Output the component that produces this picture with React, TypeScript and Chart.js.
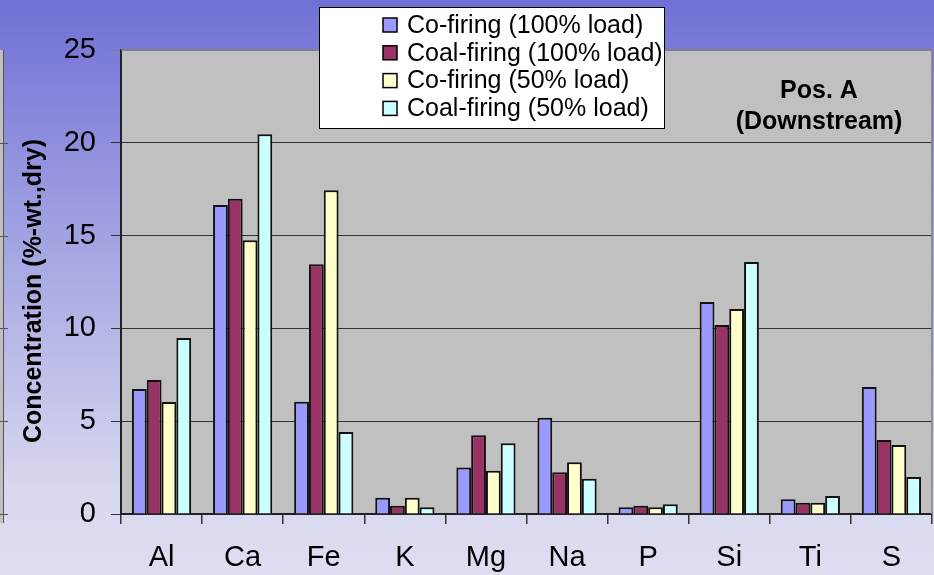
import React, { useEffect, useRef } from "react";
import { Chart, registerables } from "chart.js";

Chart.register(...registerables);

const categories = ["Al", "Ca", "Fe", "K", "Mg", "Na", "P", "Si", "Ti", "S"];
const seriesLabels = [
  "Co-firing (100% load)",
  "Coal-firing (100% load)",
  "Co-firing (50% load)",
  "Coal-firing (50% load)",
];
const coFiring100 = [6.73, 16.65, 6.05, 0.88, 2.51, 5.19, 0.36, 11.42, 0.79, 6.84];
const coalFiring100 = [7.22, 16.99, 13.45, 0.45, 4.24, 2.25, 0.45, 10.18, 0.61, 3.99];
const coFiring50 = [6.03, 14.75, 17.44, 0.88, 2.33, 2.79, 0.36, 11.05, 0.61, 3.72];
const coalFiring50 = [9.48, 20.46, 4.42, 0.36, 3.81, 1.9, 0.52, 13.58, 0.97, 1.99];
const seriesColors = ["#9999ff", "#993366", "#ffffcc", "#ccffff"];
const yTicks = [0, 5, 10, 15, 20, 25];
const yTitle = "Concentration (%-wt.,dry)";
const noteLines = ["Pos. A", "(Downstream)"];

const FONT = "'Liberation Sans', Arial, sans-serif";

const decorPlugin = {
  id: "decor",
  beforeDraw(chart: any) {
    const { ctx, width, height, chartArea } = chart;
    ctx.save();
    const g = ctx.createLinearGradient(0, 0, 0, height);
    g.addColorStop(0, "#7070d6");
    g.addColorStop(0.85, "#d8d8ef");
    g.addColorStop(1, "#dedef2");
    ctx.fillStyle = g;
    ctx.fillRect(0, 0, width, height);
    ctx.fillStyle = "#c0c0c0";
    ctx.fillRect(chartArea.left, chartArea.top, chartArea.right - chartArea.left, chartArea.bottom - chartArea.top);
    // neighbouring chart edge at far left
    ctx.fillStyle = "#c0c0c0";
    ctx.fillRect(0, chartArea.top, 3, chartArea.bottom - chartArea.top + 9);
    ctx.strokeStyle = "#555";
    ctx.lineWidth = 1;
    ctx.beginPath();
    ctx.moveTo(3.5, chartArea.top);
    ctx.lineTo(3.5, chartArea.bottom + 9);
    const ys = chart.scales.y;
    [0, 5, 10, 15, 20].forEach((v) => {
      const yy = Math.round(ys.getPixelForValue(v)) + 0.5;
      ctx.moveTo(0, yy);
      ctx.lineTo(8, yy);
    });
    ctx.stroke();
    ctx.restore();
  },
  afterDraw(chart: any) {
    const { ctx, chartArea } = chart;
    ctx.save();
    // plot border top / right
    ctx.strokeStyle = "#808080";
    ctx.lineWidth = 1.5;
    ctx.beginPath();
    ctx.moveTo(chartArea.left, chartArea.top);
    ctx.lineTo(chartArea.right, chartArea.top);
    ctx.lineTo(chartArea.right, chartArea.bottom);
    ctx.stroke();

    // y title
    ctx.save();
    ctx.translate(34, 291);
    ctx.rotate(-Math.PI / 2);
    ctx.font = `bold 25px ${FONT}`;
    ctx.fillStyle = "#000";
    ctx.textAlign = "center";
    ctx.textBaseline = "middle";
    ctx.fillText(yTitle, 0, 0);
    ctx.restore();

    // legend box
    const lx = 319, ly = 7, lw = 345, lh = 121;
    ctx.fillStyle = "#fff";
    ctx.fillRect(lx, ly, lw, lh);
    ctx.strokeStyle = "#000";
    ctx.lineWidth = 1;
    ctx.strokeRect(lx + 0.5, ly + 0.5, lw, lh);
    ctx.font = `25px ${FONT}`;
    ctx.textAlign = "left";
    ctx.textBaseline = "middle";
    chart.data.datasets.forEach((ds: any, i: number) => {
      const cy = 25 + i * 27.8;
      ctx.fillStyle = ds.backgroundColor;
      ctx.fillRect(383, cy - 7, 14, 14);
      ctx.strokeStyle = "#000";
      ctx.lineWidth = 1.5;
      ctx.strokeRect(383, cy - 7, 14, 14);
      ctx.fillStyle = "#000";
      ctx.fillText(ds.label, 407, cy + 1);
    });

    // annotation
    ctx.font = `bold 25px ${FONT}`;
    ctx.textAlign = "center";
    ctx.fillStyle = "#000";
    ctx.fillText(noteLines[0], 819, 91);
    ctx.fillText(noteLines[1], 819, 122);
    ctx.restore();
  },
};

export default function App() {
  const ref = useRef<HTMLCanvasElement>(null);
  useEffect(() => {
    if (!ref.current) return;
    const data = [coFiring100, coalFiring100, coFiring50, coalFiring50];
    const chart = new Chart(ref.current, {
      type: "bar",
      data: {
        labels: categories,
        datasets: data.map((d, i) => ({
          label: seriesLabels[i],
          data: d,
          backgroundColor: seriesColors[i],
          borderColor: "#111",
          borderWidth: 2,
          categoryPercentage: 0.73,
          barPercentage: 1.0,
        })),
      },
      options: {
        responsive: false,
        animation: false,
        layout: { padding: { top: 50, right: 2, left: 0, bottom: 0 } },
        plugins: { legend: { display: false }, tooltip: { enabled: false } },
        scales: {
          x: {
            afterFit: (s: any) => {
              s.height = 61;
            },
            grid: {
              offset: true,
              drawOnChartArea: false,
              drawTicks: true,
              tickLength: 10,
              color: "#333",
              lineWidth: 1.5,
            },
            border: { display: true, color: "#222", width: 2 },
            ticks: {
              font: { size: 29, family: FONT },
              color: "#000",
              padding: 17,
            },
          },
          y: {
            min: 0,
            max: 25,
            afterFit: (s: any) => {
              s.width = 121;
            },
            afterBuildTicks: (s: any) => {
              s.ticks = yTicks.map((v) => ({ value: v }));
            },
            grid: {
              drawTicks: true,
              tickLength: 10,
              color: (c: any) => (c.tick && c.tick.value === 25 ? "#808080" : "#333"),
              lineWidth: 1,
            },
            border: { display: true, color: "#222", width: 2 },
            ticks: {
              font: { size: 29, family: FONT },
              color: "#000",
              padding: 15,
            },
          },
        },
      },
      plugins: [decorPlugin],
    });
    return () => chart.destroy();
  }, []);
  return (
    <div style={{ position: "fixed", left: 0, top: 0, width: 934, height: 575 }}>
      <canvas ref={ref} width={934} height={575} style={{ display: "block" }} />
    </div>
  );
}
